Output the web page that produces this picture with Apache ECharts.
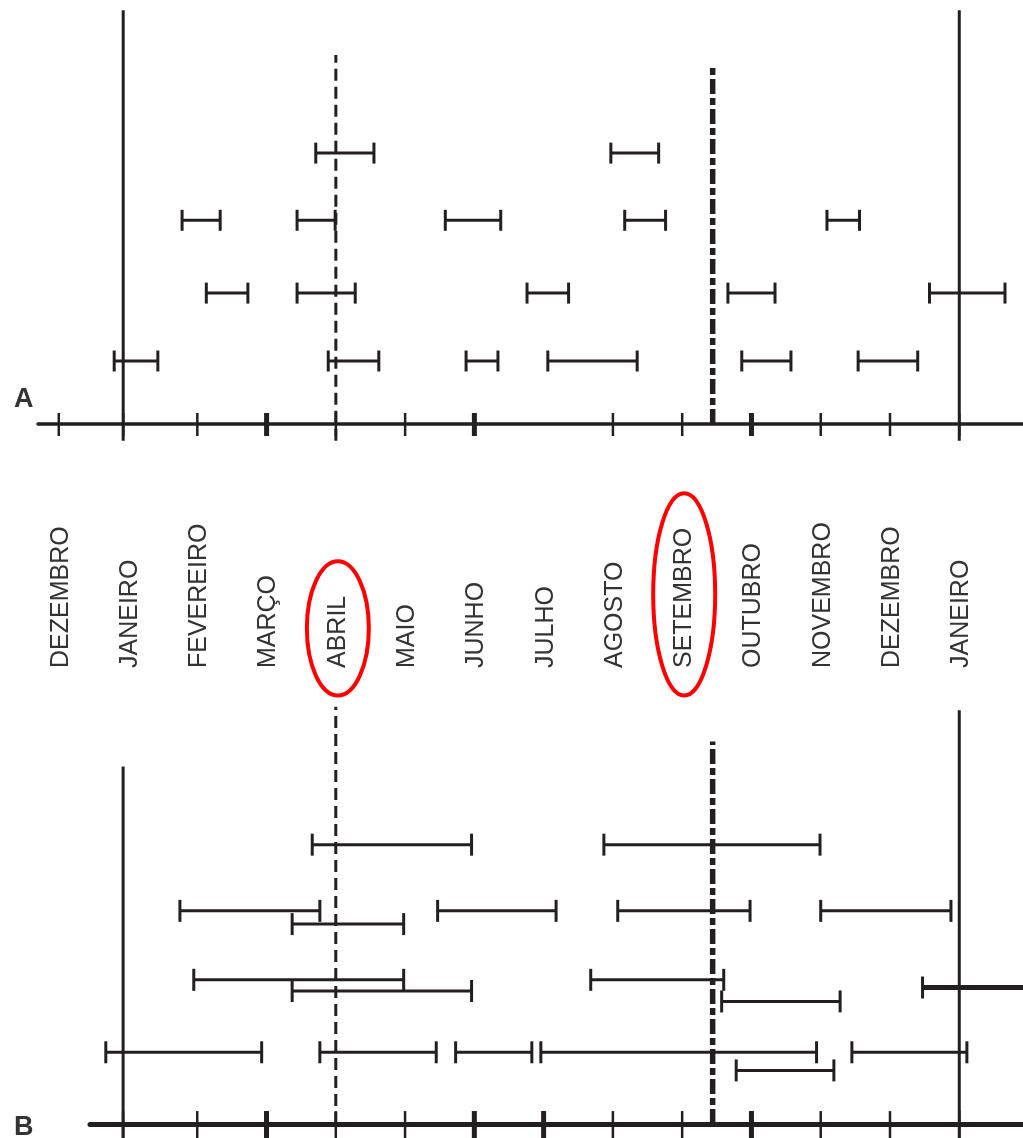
<!DOCTYPE html>
<html>
<head>
<meta charset="utf-8">
<script src="https://cdn.jsdelivr.net/npm/echarts@6/dist/echarts.min.js"></script>
<style>
  html, body { margin: 0; padding: 0; background: #ffffff; }
  #chart { width: 1023px; height: 1138px; }
</style>
</head>
<body>
<div id="chart"></div>
<script>
// Month axis: position 0 = DEZEMBRO, 1 = JANEIRO ... 13 = JANEIRO of the following year
const MONTHS = ['DEZEMBRO', 'JANEIRO', 'FEVEREIRO', 'MARÇO', 'ABRIL', 'MAIO', 'JUNHO',
  'JULHO', 'AGOSTO', 'SETEMBRO', 'OUTUBRO', 'NOVEMBRO', 'DEZEMBRO', 'JANEIRO'];
const HIGHLIGHTED_MONTHS = [4, 9];

// Panel A intervals: [start month, end month, row level]
const panelA = [
  [0.80, 1.43, 0.90], [3.89, 4.62, 0.90], [5.88, 6.34, 0.90], [7.06, 8.35, 0.90], [9.86, 10.57, 0.90], [11.54, 12.40, 0.90],
  [2.13, 2.73, 1.87], [3.44, 4.28, 1.87], [6.76, 7.36, 1.87], [9.66, 10.34, 1.87], [12.57, 13.66, 1.87],
  [1.78, 2.33, 2.91], [3.44, 3.99, 2.91], [5.58, 6.38, 2.91], [8.17, 8.76, 2.91], [11.09, 11.56, 2.91],
  [3.71, 4.55, 3.87], [7.97, 8.66, 3.87]
];

// Panel B intervals: [start month, end month, row level]
const panelB = [
  [0.68, 2.93, 1.03], [3.77, 5.45, 1.03], [5.73, 6.83, 1.03], [6.96, 10.94, 1.03], [11.45, 13.11, 1.03],
  [9.78, 11.19, 0.77],
  [1.95, 4.98, 2.07], [7.68, 9.60, 2.07],
  [3.37, 5.96, 1.91],
  [9.57, 11.28, 1.76],
  [1.75, 3.77, 3.06], [5.47, 7.18, 3.06], [8.07, 9.98, 3.06], [11.00, 12.88, 3.06],
  [3.37, 4.98, 2.87],
  [3.66, 5.96, 4.01], [7.87, 10.99, 4.01]
];
// Panel B interval running past the end of the axis, drawn heavier
const panelBHeavy = [[12.47, 14.3, 1.96]];

// Axis ticks (month positions) and the heavier ones
const ticksA = [0, 0.93, 2, 3, 4, 5, 6, 8, 9, 10, 11, 12, 13];
const heavyTicksA = [3, 6, 10];
const ticksB = [0.93, 2, 3, 4, 5, 6, 7, 8, 9, 10, 11, 12, 13];
const heavyTicksB = [3, 6, 7, 10];

// Reference lines: [month, bottom level, top level]
const janLinesA = [[0.93, -0.24, 5.91], [13.0, -0.24, 5.91]];
const aprLineA = [[4.0, -0.24, 5.27]];
const sepLineA = [[9.44, 0, 5.10]];
const janLinesB = [[0.93, -0.25, 5.13], [13.0, -0.25, 5.94]];
const aprLineB = [[4.0, 0, 5.99]];
const sepLineB = [[9.44, 0, 5.49]];

const INK = '#231f20';
const FONT = 'Liberation Sans';
const LABEL_SIZE = 25;

const measureCtx = document.createElement('canvas').getContext('2d');
measureCtx.font = LABEL_SIZE + 'px "' + FONT + '"';
function textLength(t) { return measureCtx.measureText(t).width; }

function intervalItem(lineWidth, capHalf) {
  return function (params, api) {
    const s = api.coord([api.value(0), api.value(2)]);
    const e = api.coord([api.value(1), api.value(2)]);
    const style = { stroke: INK, lineWidth: lineWidth, fill: null };
    const cap = { stroke: INK, lineWidth: 3, fill: null };
    return {
      type: 'group',
      children: [
        { type: 'line', shape: { x1: s[0], y1: s[1], x2: e[0], y2: e[1] }, style: style },
        { type: 'line', shape: { x1: s[0], y1: s[1] - capHalf, x2: s[0], y2: s[1] + capHalf }, style: cap },
        { type: 'line', shape: { x1: e[0], y1: e[1] - capHalf, x2: e[0], y2: e[1] + capHalf }, style: cap }
      ]
    };
  };
}

function tickItem(up, down, width) {
  return function (params, api) {
    const p = api.coord([api.value(0), 0]);
    return {
      type: 'line',
      shape: { x1: p[0], y1: p[1] - up, x2: p[0], y2: p[1] + down },
      style: { stroke: INK, lineWidth: width }
    };
  };
}

function refLineItem(width, dash) {
  return function (params, api) {
    const b = api.coord([api.value(0), api.value(1)]);
    const t = api.coord([api.value(0), api.value(2)]);
    return {
      type: 'line',
      shape: { x1: b[0], y1: b[1], x2: t[0], y2: t[1] },
      style: { stroke: INK, lineWidth: width, lineDash: dash, fill: null }
    };
  };
}

function monthLabelItem(params, api) {
  const i = api.value(0);
  const p = api.coord([i, 0]);
  const x = p[0] + 2;
  const name = MONTHS[i];
  const children = [{
    type: 'text',
    x: x, y: p[1],
    rotation: Math.PI / 2,
    style: {
      text: name, fill: '#333333', fontSize: LABEL_SIZE, fontFamily: FONT,
      align: 'left', verticalAlign: 'middle'
    }
  }];
  if (HIGHLIGHTED_MONTHS.indexOf(i) >= 0) {
    const len = textLength(name);
    children.push({
      type: 'ellipse',
      shape: { cx: x, cy: p[1] - len / 2 - 3.5, rx: 31, ry: len / 2 + 31 },
      style: { fill: null, stroke: '#ff0000', lineWidth: 4 }
    });
  }
  return { type: 'group', children: children };
}

function custom(xi, yi, data, renderItem, z) {
  return {
    type: 'custom', xAxisIndex: xi, yAxisIndex: yi, data: data,
    renderItem: renderItem, clip: false, silent: true, z: z || 2,
    encode: { x: 0, y: data[0].length > 2 ? 2 : 1 }
  };
}

const hiddenAxis = { axisLine: { show: false }, axisTick: { show: false }, axisLabel: { show: false }, splitLine: { show: false } };

const chart = echarts.init(document.getElementById('chart'), null, { renderer: 'canvas' });
chart.setOption({
  animation: false,
  backgroundColor: '#ffffff',
  grid: [
    { left: 38, right: 0, top: 0, height: 445 },
    { left: 38, right: 0, top: 470, height: 198 },
    { left: 90, right: 0, top: 706, height: 434 }
  ],
  xAxis: [
    Object.assign({}, hiddenAxis, { gridIndex: 0, type: 'value', min: -0.3, max: 13.92,
      axisLine: { show: true, onZero: true, lineStyle: { color: INK, width: 3.5 } } }),
    Object.assign({}, hiddenAxis, { gridIndex: 1, type: 'value', min: -0.3, max: 13.92 }),
    Object.assign({}, hiddenAxis, { gridIndex: 2, type: 'value', min: 0.452, max: 13.92,
      axisLine: { show: true, onZero: true, lineStyle: { color: INK, width: 5 } } })
  ],
  yAxis: [
    Object.assign({}, hiddenAxis, { gridIndex: 0, type: 'value', min: -0.3, max: 6.057 }),
    Object.assign({}, hiddenAxis, { gridIndex: 1, type: 'value', min: 0, max: 1 }),
    Object.assign({}, hiddenAxis, { gridIndex: 2, type: 'value', min: -0.2, max: 6.0 })
  ],
  graphic: [
    { type: 'text', left: 14, top: 386, style: { text: 'A', fontSize: 27, fontWeight: 'bold', fontFamily: FONT, fill: '#333333' } },
    { type: 'text', left: 14, top: 1114, style: { text: 'B', fontSize: 27, fontWeight: 'bold', fontFamily: FONT, fill: '#333333' } }
  ],
  series: [
    // Panel A
    custom(0, 0, janLinesA, refLineItem(3, null), 1),
    custom(0, 0, aprLineA, refLineItem(3, [12, 6]), 1),
    custom(0, 0, sepLineA, refLineItem(5.5, [15, 4, 7, 4]), 1),
    custom(0, 0, ticksA.map(v => [v, 0]), tickItem(11, 12, 2.5)),
    custom(0, 0, heavyTicksA.map(v => [v, 0]), tickItem(11, 12, 5)),
    custom(0, 0, panelA, intervalItem(3, 10.5), 3),
    // Month names
    custom(1, 1, MONTHS.map((m, i) => [i, 0]), monthLabelItem, 3),
    // Panel B
    custom(2, 2, janLinesB, refLineItem(3, null), 1),
    custom(2, 2, aprLineB, refLineItem(3, [12, 6]), 1),
    custom(2, 2, sepLineB, refLineItem(5.5, [15, 4, 7, 4]), 1),
    custom(2, 2, ticksB.map(v => [v, 0]), tickItem(13, 16, 2.5)),
    custom(2, 2, heavyTicksB.map(v => [v, 0]), tickItem(13, 16, 5)),
    custom(2, 2, panelB, intervalItem(3, 11), 3),
    custom(2, 2, panelBHeavy, intervalItem(5, 11), 3)
  ]
});
</script>
</body>
</html>
